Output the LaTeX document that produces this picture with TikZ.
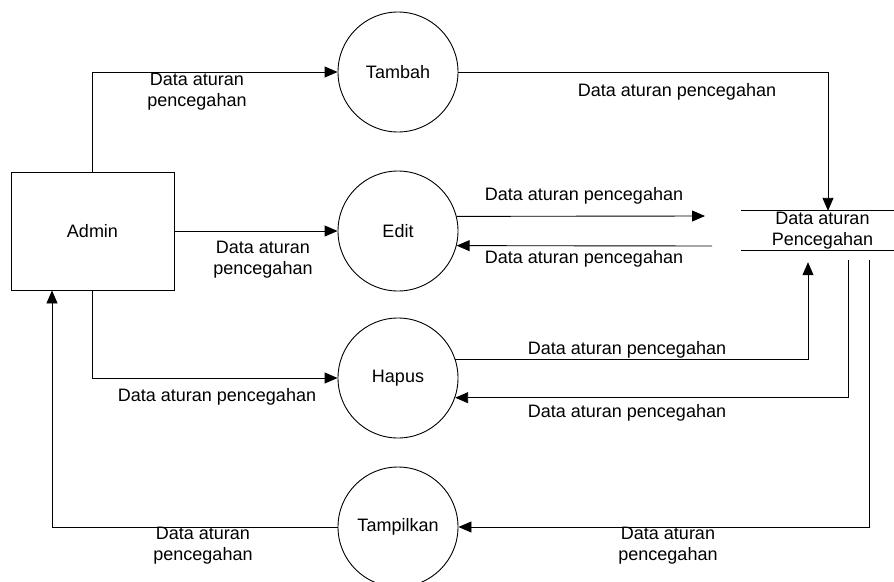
\documentclass[tikz,border=0pt]{standalone}
\usepackage{fontspec}
\setmainfont{Liberation Sans}
\usetikzlibrary{arrows.meta}
\begin{document}
\begin{tikzpicture}[x=1pt,y=-1pt,
  every node/.style={font=\fontsize{18}{21}\selectfont},
  proc/.style={draw,circle,minimum size=120pt,inner sep=0pt,line width=0.9pt},
  ent/.style={draw,rectangle,minimum width=163pt,minimum height=118pt,inner sep=0pt,line width=0.9pt},
  store/.style={rectangle,minimum width=163pt,minimum height=39pt,inner sep=0pt,align=center},
  lbl/.style={inner sep=0pt,align=center},
  flow/.style={line width=0.9pt,-{Triangle[length=13pt,width=11pt]}}]
\useasboundingbox (0,0) rectangle (894,581);
\clip (0,0) rectangle (894,581);
\fill[white] (0,0) rectangle (894,581);

\node[ent] (admin) at (92.5,231) {Admin};
\node[proc] (tambah) at (398,72) {Tambah};
\node[proc] (edit) at (398,231) {Edit};
\node[proc] (hapus) at (398,378) {Hapus};
\node[proc] (tamp) at (398,527) {Tampilkan};
\node[store] (store) at (822.5,230.5) {Data aturan\\Pencegahan};
\draw[line width=0.9pt] (store.north west) -- (store.north east);
\draw[line width=0.9pt] (store.south west) -- (store.south east);

\coordinate (e1) at (705,216);
\coordinate (e2) at (712,246);

% Admin -> Tambah
\draw[flow] (admin.north) |- (tambah.west);
\node[lbl] (l1) at (197,92) {Data aturan\\pencegahan};
% Tambah -> store
\draw[flow] (tambah.east) -| ([xshift=5.5pt]store.north);
\node[lbl] (l2) at (677,92) {Data aturan pencegahan};
% Edit -> store
\draw[flow] (edit.14.5) -- (e1);
\node[lbl] (l3) at (584,196) {Data aturan pencegahan};
% store -> Edit
\draw[flow] (e2) -- (edit.-14.5);
\node[lbl] (l4) at (584,259) {Data aturan pencegahan};
% Admin -> Edit
\draw[flow] (admin.east) -- (edit.west);
\node[lbl] (l5) at (263,259.5) {Data aturan\\pencegahan};
% Admin -> Hapus
\draw[flow] (admin.south) |- (hapus.west);
\node[lbl] (l6) at (217,397) {Data aturan pencegahan};
% Hapus -> store
\draw[flow] (hapus.18.5) -| ([xshift=-14.5pt,yshift=-12pt]store.south);
\node[lbl] (l7) at (627,350) {Data aturan pencegahan};
% store -> Hapus
\draw[flow] ([xshift=25.5pt,yshift=-10pt]store.south) |- (hapus.-19.5);
\node[lbl] (l8) at (627,413) {Data aturan pencegahan};
% store -> Tampilkan
\draw[flow] ([xshift=46.5pt,yshift=-10pt]store.south) |- (tamp.east);
\node[lbl] (l9) at (668,545.5) {Data aturan\\pencegahan};
% Tampilkan -> Admin
\draw[flow] (tamp.west) -| ([xshift=-40.5pt]admin.south);
\node[lbl] (l10) at (203,546) {Data aturan\\pencegahan};
\end{tikzpicture}
\end{document}
